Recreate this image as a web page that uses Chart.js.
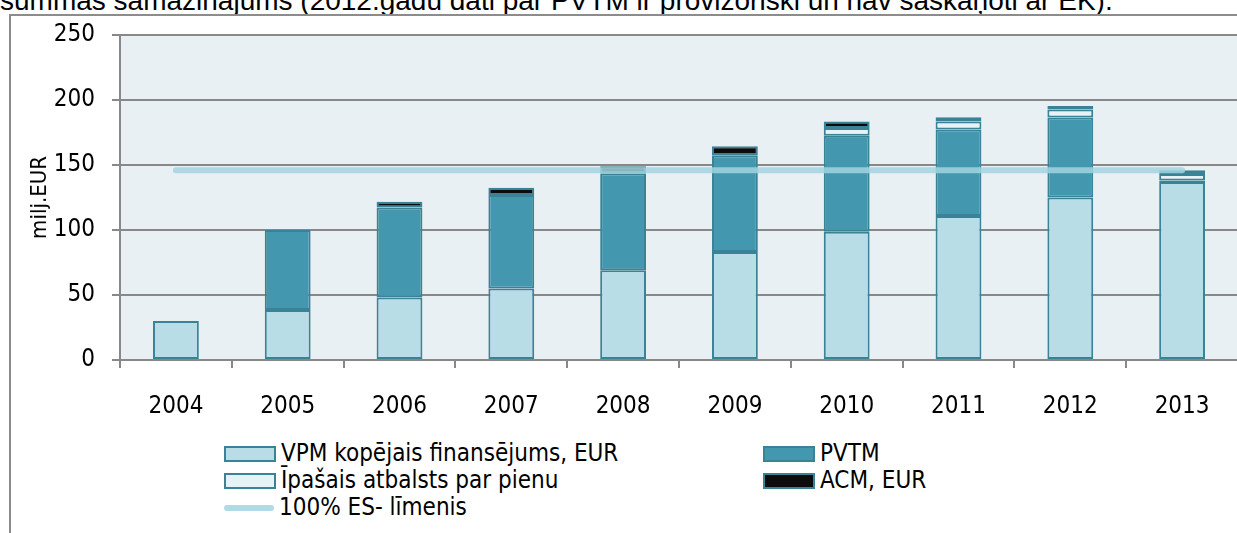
<!DOCTYPE html>
<html>
<head>
<meta charset="utf-8">
<script src="https://cdn.jsdelivr.net/npm/chart.js@4.4.0/dist/chart.umd.min.js"></script>
<style>
body{margin:0;width:1237px;height:533px;overflow:hidden;background:#fff;position:relative;font-family:"DejaVu Sans Condensed","DejaVu Sans",sans-serif;}
#note{position:absolute;left:0;top:-15px;font-family:"Liberation Sans",Arial,sans-serif;font-size:28px;line-height:32px;white-space:nowrap;color:#000;}
#frame{position:absolute;left:9px;top:14px;width:1240px;height:540px;border-left:2px solid #8c8c8c;border-top:2px solid #8c8c8c;}
#wrap{position:absolute;left:0;top:0;width:1238px;height:430px;}
#legend{position:absolute;left:224px;top:440px;display:grid;grid-template-columns:539px auto;row-gap:0;font-size:24px;color:#000;}
#legend div{height:27px;line-height:27px;display:flex;align-items:center;white-space:nowrap;}
#legend span.box{display:inline-block;width:48px;height:12px;border:2px solid #3a8296;margin-right:5px;}
#legend span.ln{display:inline-block;width:50px;height:6px;border-radius:3px;margin-right:5px;}
</style>
</head>
<body>
<div id="note">summas samazinājums (2012.gadu dati par PVTM ir provizoriski un nav saskaņoti ar EK).</div>
<div id="frame"></div>
<div id="wrap"><canvas id="vpmChart"></canvas></div>
<div id="legend"></div>
<script>
const years = ['2004','2005','2006','2007','2008','2009','2010','2011','2012','2013'];
const vpm = [30, 38.5, 48, 55, 69, 83, 98.7, 110.8, 125, 137];
const pvtm = [null, 61.5, 69.3, 72, 74.5, 74.5, 73.8, 66.6, 61.6, 1];
const ipasais = [null, null, null, null, null, null, 6, 6, 6, 5];
const acm = [null, null, 4.5, 5.5, 5.5, 7, 5, 3.3, 2.8, 3];
const esLimenis = [146, 146, 146, 146, 146, 146, 146, 146, 146, 146];
const yMax = 250, yStep = 50;

const edge = '#3a8296';
const gridCol = '#888888';
const tickFont = {family: '"DejaVu Sans Condensed","DejaVu Sans",sans-serif', size: 24};

const plotBg = {
    id: 'plotBg',
    beforeDraw(chart) {
        const {ctx, chartArea: a} = chart;
        ctx.save();
        ctx.fillStyle = '#e8f0f4';
        ctx.fillRect(a.left, a.top, a.right - a.left, a.bottom - a.top);
        ctx.restore();
    }
};

const barSet = (label, data, fill) => ({
    label: label,
    data: data,
    backgroundColor: fill,
    borderColor: edge,
    borderWidth: 2,
    borderSkipped: false,
    order: 1,
    categoryPercentage: 1,
    barPercentage: 0.41
});

const chart = new Chart('vpmChart', {
    type: 'bar',
    data: {
        labels: years,
        datasets: [
            barSet('VPM kopējais finansējums, EUR', vpm, '#b8dde7'),
            barSet('PVTM', pvtm, '#4397af'),
            barSet('Īpašais atbalsts par pienu', ipasais, '#e6f2f6'),
            barSet('ACM, EUR', acm, '#0c0c0c'),
            {
                type: 'line',
                label: '100% ES- līmenis',
                data: esLimenis,
                borderColor: 'rgba(162,211,225,0.85)',
                borderWidth: 6,
                borderCapStyle: 'round',
                pointRadius: 0,
                order: 0
            }
        ]
    },
    options: {
        responsive: true,
        maintainAspectRatio: false,
        animation: false,
        layout: {padding: {top: 35, right: 0, left: 0, bottom: 0}},
        plugins: {legend: {display: false}, tooltip: {enabled: false}},
        scales: {
            x: {
                stacked: true,
                grid: {offset: true, drawOnChartArea: false, drawTicks: true, tickLength: 8, color: gridCol, lineWidth: 2},
                border: {color: gridCol, width: 2},
                ticks: {color: '#000', font: tickFont, padding: 24, maxRotation: 0},
                afterFit: (s) => { s.height = 70; }
            },
            y: {
                stacked: true,
                min: 0,
                max: yMax,
                grid: {color: gridCol, lineWidth: 2, tickLength: 8},
                border: {color: gridCol, width: 2},
                ticks: {stepSize: yStep, color: '#000', font: tickFont, padding: 17},
                title: {display: true, text: 'milj.EUR', color: '#000', font: {family: tickFont.family, size: 22}, padding: {top: 27, bottom: 0}},
                afterFit: (s) => { s.width = 120; }
            }
        }
    },
    plugins: [plotBg]
});

// legend in two columns, like the original
const order = [0, 1, 2, 3, 4];
const legend = document.getElementById('legend');
order.forEach(i => {
    const ds = chart.data.datasets[i];
    const item = document.createElement('div');
    const mark = document.createElement('span');
    if (ds.type === 'line') {
        mark.className = 'ln';
        mark.style.background = ds.borderColor;
    } else {
        mark.className = 'box';
        mark.style.background = ds.backgroundColor;
    }
    item.appendChild(mark);
    item.appendChild(document.createTextNode(ds.label));
    legend.appendChild(item);
});
</script>
</body>
</html>
